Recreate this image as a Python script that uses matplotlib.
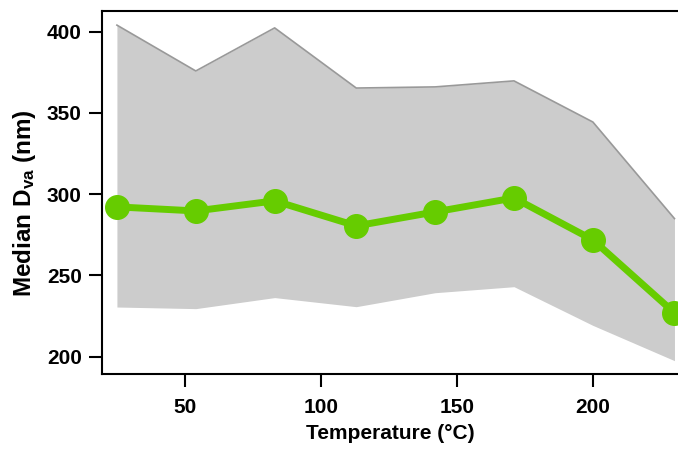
import matplotlib
matplotlib.use("Agg")
import matplotlib.pyplot as plt

plt.rcParams['font.family'] = ['Liberation Sans', 'DejaVu Sans']
plt.rcParams['font.weight'] = 'bold'
plt.rcParams['mathtext.fontset'] = 'custom'
plt.rcParams['mathtext.rm'] = 'Liberation Sans:bold'
plt.rcParams['mathtext.bf'] = 'Liberation Sans:bold'
plt.rcParams['mathtext.it'] = 'Liberation Sans:bold'

temperature = [25, 54, 83, 113, 142, 171, 200, 230]
median_dva = [292.2, 289.7, 295.9, 280.5, 289.1, 297.7, 271.9, 227.0]
upper_dva = [404.0, 375.8, 402.3, 365.3, 366.0, 369.7, 344.4, 285.0]
lower_dva = [230.6, 229.6, 236.4, 230.8, 239.4, 243.1, 219.3, 197.6]
x_ticks = [50, 100, 150, 200]
y_ticks = [200, 250, 300, 350, 400]

fig = plt.figure(figsize=(6.78, 4.5), dpi=100)
ax = fig.add_axes([0.1504, 0.1689, 0.8496, 0.8067])

ax.fill_between(temperature, lower_dva, upper_dva, color='#cccccc', lw=0, zorder=1)
ax.plot(temperature, upper_dva, color='#999999', lw=1.2, zorder=2)
ax.plot(temperature, median_dva, color='#66cc00', lw=5, marker='o', markersize=17,
        zorder=3, clip_on=False)

ax.set_xlim(19.5, 231.3)
ax.set_ylim(189.4, 412.7)
ax.set_xticks(x_ticks)
ax.set_yticks(y_ticks)

for s in ['left', 'bottom', 'top']:
    ax.spines[s].set_linewidth(1.5)
ax.spines['right'].set_visible(False)

ax.tick_params(axis='both', direction='out', length=9.5, width=1.5, labelsize=15)
ax.tick_params(axis='y', pad=5)
ax.tick_params(axis='x', pad=8)
for lab in ax.get_xticklabels() + ax.get_yticklabels():
    lab.set_fontweight('bold')

ax.set_xlabel('Temperature (°C)', fontsize=15, fontweight='bold', labelpad=5)
ax.set_ylabel(r'Median D$_{\mathrm{va}}$ (nm)', fontsize=17.5, fontweight='bold')
ax.yaxis.set_label_coords(-0.111, 0.47)

fig.savefig('out.png', dpi=100)
